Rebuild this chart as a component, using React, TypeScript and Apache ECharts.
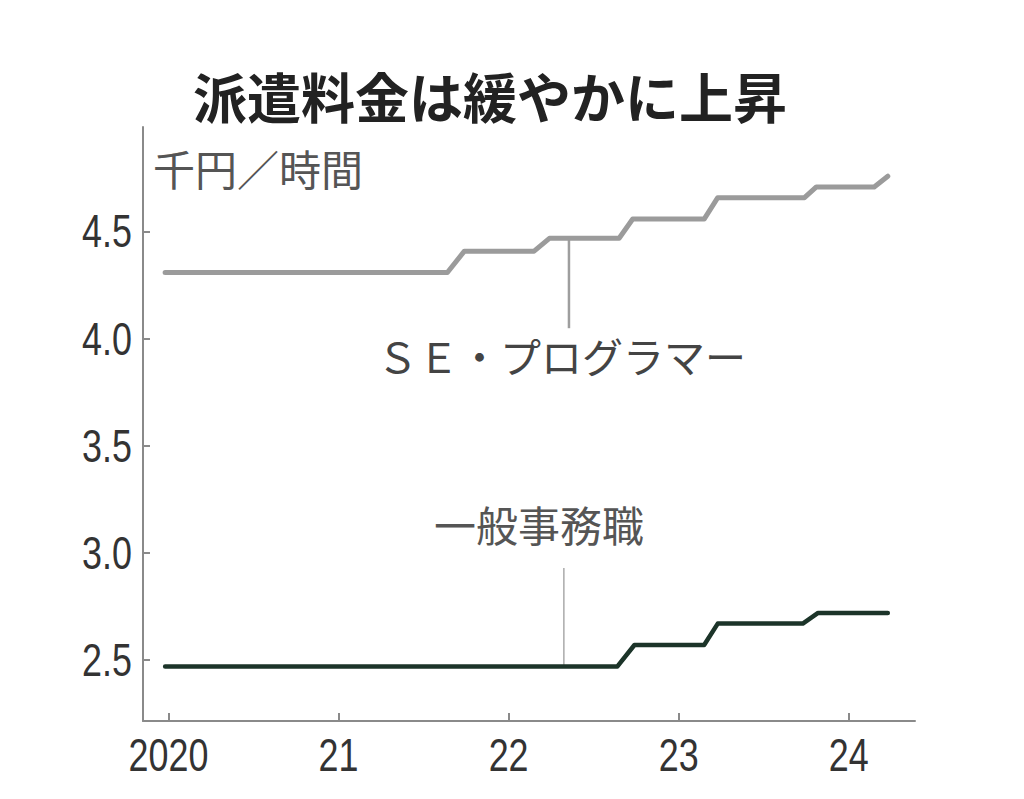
import React, { useEffect, useRef } from "react";
import * as echarts from "echarts";

// Data (year as decimal, thousand yen per hour)
const seTimes = [2019.98, 2021.64, 2021.74, 2022.15, 2022.24, 2022.65, 2022.73, 2023.15, 2023.23, 2023.74, 2023.81, 2024.15, 2024.23];
const seValues = [4.31, 4.31, 4.41, 4.41, 4.47, 4.47, 4.56, 4.56, 4.66, 4.66, 4.71, 4.71, 4.76];
const clerkTimes = [2019.98, 2022.64, 2022.74, 2023.15, 2023.23, 2023.73, 2023.82, 2024.23];
const clerkValues = [2.47, 2.47, 2.57, 2.57, 2.67, 2.67, 2.72, 2.72];
const xTicks = [2020, 2021, 2022, 2023, 2024];
const xTickLabels = ["2020", "21", "22", "23", "24"];
const yTicks = [2.5, 3.0, 3.5, 4.0, 4.5];
const yTickLabels = ["2.5", "3.0", "3.5", "4.0", "4.5"];
const seLeader = [[2022.355, 4.47], [2022.355, 4.05]];
const clerkLeader = [[2022.325, 2.47], [2022.325, 2.93]];
const title = "派遣料金は緩やかに上昇";
const unit = "千円／時間";
const seLabel = "ＳＥ・プログラマー";
const clerkLabel = "一般事務職";

const X_MIN = 2019.85;
const X_MAX = 2024.39;
const Y_MIN = 2.215;
const Y_MAX = 4.99;

const numFont = "'Liberation Sans', Arial, sans-serif";
const jpFont = "'Noto Sans CJK JP', sans-serif";

export default function App() {
  const ref = useRef<HTMLDivElement>(null);
  useEffect(() => {
    if (!ref.current) return;
    const chart = echarts.init(ref.current, null, { renderer: "svg" });
    const zip = (t: number[], v: number[]) => t.map((x, i) => [x, v[i]]);
    chart.setOption({
      animation: false,
      backgroundColor: "#ffffff",
      grid: { left: 143, right: 109, top: 127, bottom: 78 },
      xAxis: {
        type: "value",
        min: X_MIN,
        max: X_MAX,
        axisLine: { show: true, lineStyle: { color: "#8a8a8a", width: 2 } },
        axisTick: { show: true, inside: true, length: 8, customValues: xTicks, lineStyle: { color: "#8a8a8a", width: 2 } },
        axisLabel: { show: false },
        splitLine: { show: false },
      },
      yAxis: {
        type: "value",
        min: Y_MIN,
        max: Y_MAX,
        axisLine: { show: true, lineStyle: { color: "#8a8a8a", width: 2 } },
        axisTick: { show: true, inside: true, length: 7, customValues: yTicks, lineStyle: { color: "#8a8a8a", width: 2 } },
        axisLabel: { show: false },
        splitLine: { show: false },
      },
      series: [
        {
          type: "line",
          data: seLeader,
          symbol: "none",
          silent: true,
          lineStyle: { color: "#9e9e9e", width: 2.5 },
        },
        {
          type: "line",
          data: clerkLeader,
          symbol: "none",
          silent: true,
          lineStyle: { color: "#aaaaaa", width: 1.5 },
        },
        {
          name: "SE・プログラマー",
          type: "line",
          data: zip(seTimes, seValues),
          symbol: "none",
          lineStyle: { color: "#9b9b9b", width: 5, cap: "round", join: "round" },
        },
        {
          name: "一般事務職",
          type: "line",
          data: zip(clerkTimes, clerkValues),
          symbol: "none",
          lineStyle: { color: "#1c3429", width: 4.5, cap: "round", join: "round" },
        },
      ],
    });

    // Condensed tick labels placed through the chart's own scales
    const toPx = (p: number[]) => chart.convertToPixel({ xAxisIndex: 0, yAxisIndex: 0 }, p) as number[];
    const xLabelEls = xTicks.map((v, i) => {
      const [px, py] = toPx([v, Y_MIN]);
      return {
        type: "text",
        x: px,
        y: py + 11,
        scaleX: 0.78,
        style: {
          text: xTickLabels[i],
          font: `46px ${numFont}`,
          fill: "#333",
          align: "center",
          verticalAlign: "top",
        },
      };
    });
    const yLabelEls = yTicks.map((v, i) => {
      const [px, py] = toPx([X_MIN, v]);
      return {
        type: "text",
        x: px - 11,
        y: py,
        scaleX: 0.78,
        style: {
          text: yTickLabels[i],
          font: `46px ${numFont}`,
          fill: "#333",
          align: "right",
          verticalAlign: "middle",
        },
      };
    });

    chart.setOption({
      graphic: [
        ...xLabelEls,
        ...yLabelEls,
        {
          type: "text",
          left: 193,
          top: 68,
          style: { text: title, font: `bold 54px ${jpFont}`, fill: "#222" },
        },
        {
          type: "text",
          left: 153,
          top: 146,
          style: { text: unit, font: `42px ${jpFont}`, fill: "#555" },
        },
        {
          type: "text",
          left: 377,
          top: 334,
          style: { text: seLabel, font: `41px ${jpFont}`, fill: "#444" },
        },
        {
          type: "text",
          left: 434,
          top: 502,
          style: { text: clerkLabel, font: `42px ${jpFont}`, fill: "#555" },
        },
      ],
    });
    return () => chart.dispose();
  }, []);
  return (
    <div
      ref={ref}
      style={{ position: "absolute", left: 0, top: 0, width: 1024, height: 799 }}
    />
  );
}
